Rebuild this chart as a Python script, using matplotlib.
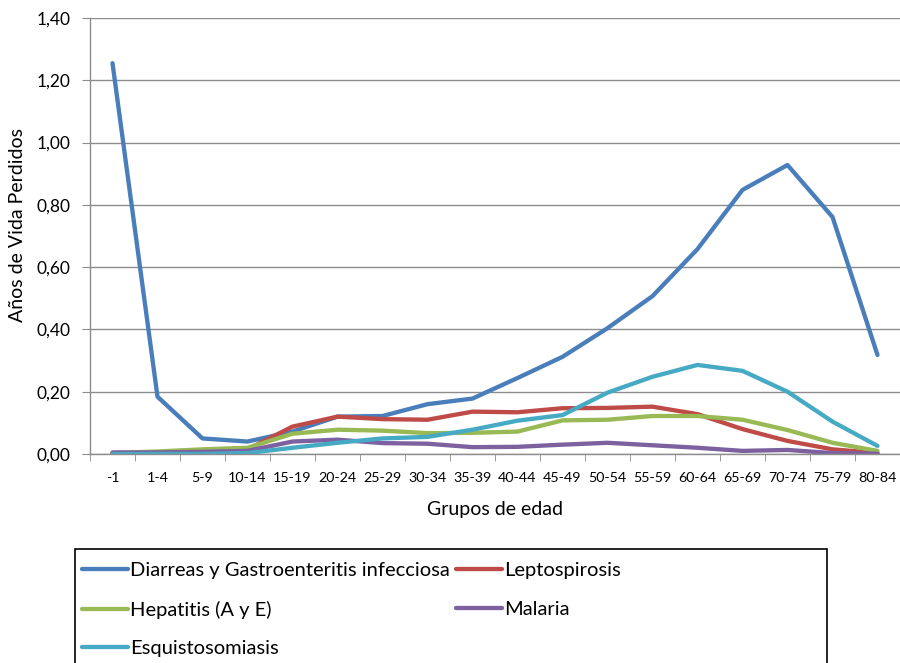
import matplotlib
matplotlib.use("Agg")
import matplotlib.pyplot as plt
from matplotlib.patches import Rectangle
from matplotlib.ticker import FuncFormatter, MultipleLocator

plt.rcParams['font.family'] = ['Lato', 'DejaVu Sans']

grupos = ['-1', '1-4', '5-9', '10-14', '15-19', '20-24', '25-29', '30-34', '35-39',
          '40-44', '45-49', '50-54', '55-59', '60-64', '65-69', '70-74', '75-79', '80-84']

diarreas = [1.255, 0.184, 0.050, 0.040, 0.072, 0.120, 0.122, 0.160, 0.178,
            0.244, 0.312, 0.404, 0.507, 0.658, 0.848, 0.928, 0.761, 0.318]
lepto = [0.003, 0.004, 0.006, 0.015, 0.088, 0.120, 0.112, 0.110, 0.136,
         0.134, 0.147, 0.148, 0.152, 0.128, 0.080, 0.042, 0.015, 0.003]
hepatitis = [0.003, 0.008, 0.015, 0.020, 0.065, 0.078, 0.075, 0.067, 0.068,
             0.072, 0.108, 0.110, 0.122, 0.122, 0.110, 0.077, 0.036, 0.010]
malaria = [0.005, 0.005, 0.007, 0.010, 0.040, 0.046, 0.035, 0.033, 0.022,
           0.023, 0.030, 0.036, 0.028, 0.020, 0.010, 0.013, 0.003, 0.001]
esquisto = [0.000, 0.000, 0.000, 0.003, 0.020, 0.036, 0.050, 0.055, 0.078,
            0.107, 0.125, 0.197, 0.248, 0.286, 0.267, 0.200, 0.104, 0.026]

series = [
    ('Diarreas y Gastroenteritis infecciosa', diarreas, '#4A7EBB'),
    ('Leptospirosis', lepto, '#BE4B48'),
    ('Hepatitis (A y E)', hepatitis, '#98B954'),
    ('Malaria', malaria, '#7D60A0'),
    ('Esquistosomiasis', esquisto, '#46AAC5'),
]

W, H = 900, 663
fig = plt.figure(figsize=(9, 6.63), dpi=100)
ax = fig.add_axes([90 / W, (H - 454) / H, 810 / W, 436 / H])

x = list(range(len(grupos)))
lines = {}
for name, vals, col in series:
    ln, = ax.plot(x, vals, color=col, lw=3.1, solid_capstyle='round', solid_joinstyle='round')
    lines[name] = ln

ax.set_xlim(-0.5, len(grupos) - 0.5)
ax.set_ylim(0, 1.40)
ax.yaxis.set_major_locator(MultipleLocator(0.2))
ax.yaxis.set_major_formatter(FuncFormatter(lambda v, p: f"{v:.2f}".replace('.', ',')))
ax.grid(axis='y', color='#8c8c8c', lw=1.0)
ax.set_axisbelow(True)

ax.set_xticks(x)
ax.set_xticklabels(grupos)
ax.set_xticks([i + 0.5 for i in range(-1, len(grupos))], minor=True)
ax.tick_params(axis='x', which='major', length=0, pad=13, labelsize=10.3)
ax.tick_params(axis='x', which='minor', length=5, color='#8c8c8c', direction='out')
ax.tick_params(axis='y', length=6, color='#8c8c8c', labelsize=12.5, pad=8)

for s in ['top', 'right']:
    ax.spines[s].set_visible(False)
for s in ['left', 'bottom']:
    ax.spines[s].set_color('#8c8c8c')
    ax.spines[s].set_linewidth(1.0)

ax.set_ylabel('Años de Vida Perdidos', fontsize=14)
ax.yaxis.set_label_coords(-72 / 810, (454 - 225) / 436)
ax.set_xlabel('Grupos de edad', fontsize=14)
ax.xaxis.set_label_coords(0.5, -(509 - 454) / 436)
ax.xaxis.label.set_va('center')
ax.yaxis.label.set_va('center')

# legend box, cut off at the bottom of the figure
fig.patches.append(Rectangle((75 / W, -0.05), (827 - 75) / W, (H - 549) / H + 0.05,
                             transform=fig.transFigure, fill=False,
                             edgecolor='black', lw=1.2))

order = ['Diarreas y Gastroenteritis infecciosa', 'Hepatitis (A y E)', 'Esquistosomiasis',
         'Leptospirosis', 'Malaria']
fig.legend([lines[n] for n in order], order, ncol=2, frameon=False,
           loc='upper left', bbox_to_anchor=(82 / W, (H - 562) / H),
           borderpad=0, borderaxespad=0, handlelength=2.3, handletextpad=0.1,
           columnspacing=0.3, labelspacing=1.07, fontsize=14.5)

fig.savefig('out.png', dpi=100)
